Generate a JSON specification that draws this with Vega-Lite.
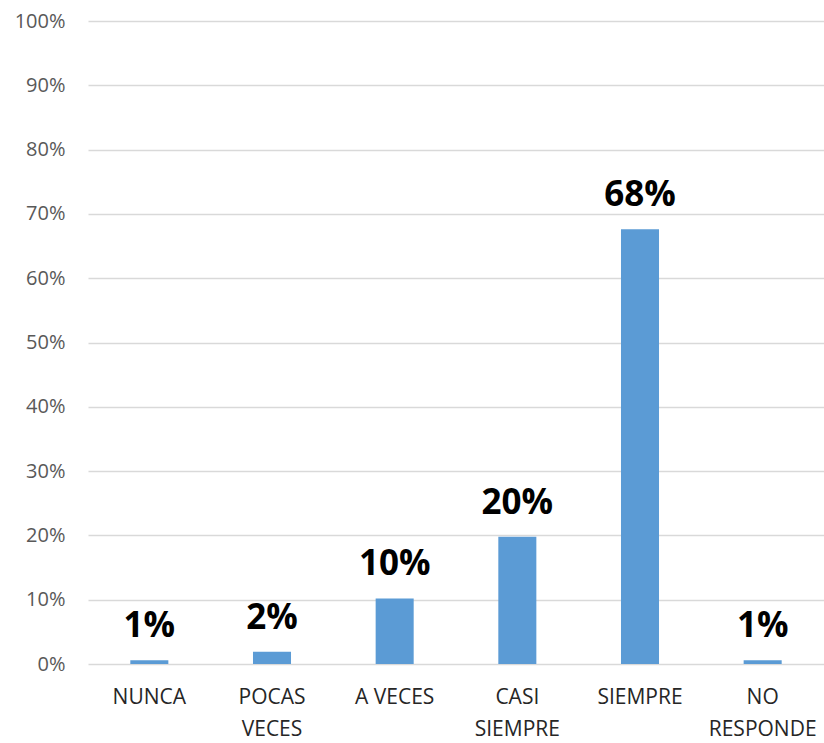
{
  "$schema": "https://vega.github.io/schema/vega-lite/v6.json",
  "autosize": {"type": "none"},
  "padding": {"left": 88, "top": 21, "right": 0, "bottom": 79},
  "width": 736,
  "height": 643,
  "background": "white",
  "data": {
    "values": [
      {"categoria": "NUNCA", "valor": 0.006},
      {"categoria": "POCAS VECES", "valor": 0.019},
      {"categoria": "A VECES", "valor": 0.102},
      {"categoria": "CASI SIEMPRE", "valor": 0.198},
      {"categoria": "SIEMPRE", "valor": 0.676},
      {"categoria": "NO RESPONDE", "valor": 0.006}
    ]
  },
  "encoding": {
    "x": {
      "field": "categoria",
      "type": "nominal",
      "sort": null,
      "scale": {"paddingInner": 0.69, "paddingOuter": 0.345},
      "axis": {
        "title": null,
        "labelAngle": 0,
        "domain": false,
        "ticks": false,
        "labelFont": "Open Sans",
        "labelFontSize": 21,
        "labelColor": "#262626",
        "labelPadding": 22,
        "labelLineHeight": 32,
        "labelBaseline": "top",
        "labelExpr": "datum.label == 'A VECES' ? datum.label : split(datum.label, ' ')"
      }
    },
    "y": {
      "field": "valor",
      "type": "quantitative",
      "scale": {"domain": [0, 1], "nice": false},
      "axis": {
        "title": null,
        "format": ".0%",
        "values": [0, 0.1, 0.2, 0.3, 0.4, 0.5, 0.6, 0.7, 0.8, 0.9, 1],
        "domain": false,
        "ticks": false,
        "labelFont": "Open Sans",
        "labelFontSize": 20,
        "labelColor": "#595959",
        "labelPadding": 23,
        "gridColor": "#d9d9d9",
        "gridWidth": 1.5
      }
    }
  },
  "layer": [
    {"mark": {"type": "bar", "color": "#5b9bd5"}},
    {
      "mark": {
        "type": "text",
        "baseline": "alphabetic",
        "dy": -23,
        "font": "Open Sans",
        "fontSize": 35,
        "fontWeight": "bold",
        "color": "#000000"
      },
      "encoding": {"text": {"field": "valor", "format": ".0%"}}
    }
  ],
  "config": {"view": {"stroke": null}}
}
